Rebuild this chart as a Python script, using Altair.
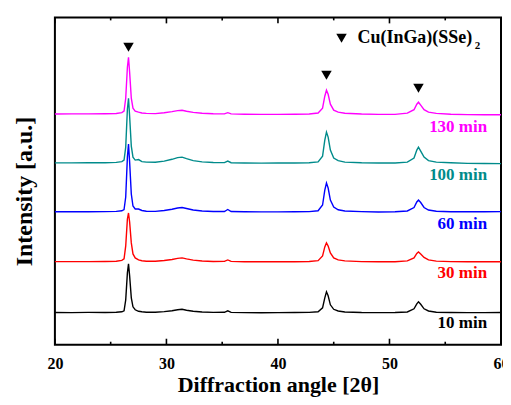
import altair as alt
import pandas as pd

# 2-theta grid (degrees)
two_theta = [20.0, 21.5, 23.0, 24.5, 25.5, 26.0, 26.2, 26.35, 26.5, 26.6, 26.7, 26.85, 27.0, 27.2, 27.5,
             27.8, 28.2, 29.0, 29.8, 30.5, 31.0, 31.4, 31.8, 32.4, 33.2, 34.2, 35.2, 35.5, 35.8, 37.0,
             38.5, 40.0, 41.5, 42.8, 43.6, 44.0, 44.2, 44.35, 44.5, 44.7, 45.0, 45.4, 46.0, 47.5, 49.0,
             50.5, 51.6, 52.2, 52.45, 52.6, 52.8, 53.1, 53.5, 54.2, 55.5, 57.0, 58.5, 60.0]

# intensities (a.u.), relative to each pattern's own baseline
i_10 = [0.3, 0.2, 0.4, 0.3, 0.5, 1.0, 2, 13, 40, 49, 37, 15, 6, 3, 1.5,
        1.0, 0.5, 0.5, 1.2, 2.0, 3.0, 3.5, 2.6, 1.6, 0.8, 0.4, 0.5, 2.0, 0.4, 0.2,
        0.1, 0.2, 0.3, 0.4, 1.0, 5, 15, 21, 17, 8, 3.5, 1.8, 0.8, 0.3, 0.2,
        0.3, 0.8, 4, 9, 11, 8.5, 4, 1.8, 0.6, 0.3, 0.2, 0.2, 0.3]
i_30 = [0.3, 0.3, 0.3, 0.4, 0.6, 1.5, 3, 16, 43, 49, 40, 19, 8, 4, 2,
        1.2, 0.7, 0.6, 1.4, 2.4, 3.5, 4.0, 3.0, 1.8, 0.9, 0.4, 0.5, 2.0, 0.5, 0.2,
        0.1, 0.1, 0.2, 0.4, 1.2, 6, 15, 19, 16, 9, 4, 2.0, 1.0, 0.3, 0.1,
        0.2, 1.0, 4, 8.5, 10, 8, 4.5, 2.0, 0.8, 0.3, 0.2, 0.1, 0.2]
i_60 = [0.2, 0.3, 0.2, 0.4, 0.6, 1.2, 2.5, 15, 55, 68, 50, 18, 6, 3, 3,
        1.5, 0.8, 0.6, 1.5, 2.8, 4.0, 4.5, 3.5, 2.0, 1.0, 0.5, 0.5, 2.5, 0.5, 0.2,
        0.1, 0.1, 0.2, 0.4, 1.2, 7, 22, 29, 24, 12, 5, 2.2, 1.0, 0.4, 0.0,
        0.2, 1.0, 4.5, 10, 12, 9.5, 4.5, 2.0, 0.8, 0.3, 0.2, 0.3, 0.4]
i_100 = [0.2, 0.2, 0.3, 0.4, 0.7, 1.5, 3, 16, 54, 65, 47, 17, 6, 3, 3.5,
         1.5, 1.0, 0.8, 2.0, 3.8, 5.5, 6.0, 4.5, 2.5, 1.2, 0.6, 0.5, 2.0, 0.4, 0.1,
         0.0, 0.1, 0.1, 0.3, 1.2, 7, 23, 31, 26, 13, 5, 2.5, 1.0, 0.3, 0.1,
         0.1, 1.0, 5, 13, 16, 12, 6, 2.5, 1.0, 0.3, -0.3, -0.4, -0.5]
i_130 = [0.2, 0.3, 0.3, 0.4, 0.7, 1.5, 3, 16, 47, 57, 42, 16, 6, 3, 2,
         1.2, 0.8, 0.6, 1.5, 2.6, 3.6, 4.0, 3.0, 1.8, 0.9, 0.4, 0.3, 1.5, 0.3, 0.0,
         -0.2, -0.2, -0.1, 0.2, 1.2, 6, 18, 24, 20, 10, 4, 2.0, 1.0, 0.2, -0.2,
         -0.2, 1.0, 4.5, 10, 12, 9, 4.5, 2.0, 0.8, 0.0, -0.4, -0.6, -0.6]

series_names = ["10 min", "30 min", "60 min", "100 min", "130 min"]
series_colors = ["#000000", "#ff0000", "#0000ff", "#008b8b", "#ff00ff"]
series_offsets = [32, 83, 133, 182, 231]
series_values = [i_10, i_30, i_60, i_100, i_130]

# label positions
label_x = [58.75, 58.75, 58.75, 58.75, 58.75]
label_y = [22, 72, 121, 170, 218]

# phase markers (peak positions) and their heights
marker_x = [26.6, 44.35, 52.6]
marker_y = [298, 270, 257]

legend_x = [45.7]
legend_y = [307]
legend_text = ["Cu(InGa)(SSe)"]
legend_sub = ["2"]
legend_sub_x = [57.65]
legend_sub_y = [299]

major_ticks = [20, 30, 40, 50, 60]
minor_ticks = [25, 35, 45, 55]

rows = []
for name, off, vals in zip(series_names, series_offsets, series_values):
    for t, v in zip(two_theta, vals):
        rows.append({"x": t, "y": v + off, "series": name})
df = pd.DataFrame(rows)

labels_df = pd.DataFrame({"x": label_x, "y": label_y, "text": series_names, "series": series_names})
markers_df = pd.DataFrame({"x": marker_x, "y": marker_y})
legend_df = pd.DataFrame({"x": legend_x, "y": legend_y, "text": legend_text})
legend_sub_df = pd.DataFrame({"x": legend_sub_x, "y": legend_sub_y, "text": legend_sub})
major_df = pd.DataFrame({"x": major_ticks})
minor_df = pd.DataFrame({"x": minor_ticks})

FONT = "Liberation Serif"
W, H = 447, 328

xscale = alt.Scale(domain=[20, 60], nice=False, zero=False)
yscale = alt.Scale(domain=[0, 328], nice=False, zero=False)
cscale = alt.Scale(domain=series_names, range=series_colors)

xaxis = alt.Axis(values=major_ticks, ticks=False, tickSize=0, grid=False, domain=False,
                 labelFlush=False, labelOverlap=False,
                 labelFont=FONT, labelFontWeight="bold", labelFontSize=16, labelColor="black",
                 labelPadding=11, title="Diffraction angle [2θ]", titleFont=FONT,
                 titleFontWeight="bold", titleFontSize=22, titleColor="black", titlePadding=3)
yaxis = alt.Axis(labels=False, ticks=False, tickSize=0, grid=False, domain=False,
                 title="Intensity [a.u.]", titleFont=FONT, titleFontWeight="bold",
                 titleFontSize=24, titleColor="black", titlePadding=18, titleY=174)

lines = alt.Chart(df).mark_line(strokeWidth=1.4).encode(
    x=alt.X("x:Q", scale=xscale, axis=xaxis),
    y=alt.Y("y:Q", scale=yscale, axis=yaxis),
    color=alt.Color("series:N", scale=cscale, legend=None),
    detail="series:N",
)

labels = alt.Chart(labels_df).mark_text(
    align="right", baseline="middle", font=FONT, fontWeight="bold", fontSize=17
).encode(
    x=alt.X("x:Q", scale=xscale),
    y=alt.Y("y:Q", scale=yscale),
    text="text:N",
    color=alt.Color("series:N", scale=cscale, legend=None),
)

markers = alt.Chart(markers_df).mark_point(
    shape="triangle-down", filled=True, color="black", opacity=1, size=110
).encode(x=alt.X("x:Q", scale=xscale), y=alt.Y("y:Q", scale=yscale))

legend_marker = alt.Chart(legend_df).mark_point(
    shape="triangle-down", filled=True, color="black", opacity=1, size=110
).encode(x=alt.X("x:Q", scale=xscale), y=alt.Y("y:Q", scale=yscale))

legend_label = alt.Chart(legend_df).mark_text(
    align="left", baseline="middle", dx=16, font=FONT, fontWeight="bold", fontSize=18, color="black"
).encode(x=alt.X("x:Q", scale=xscale), y=alt.Y("y:Q", scale=yscale), text="text:N")

legend_subscript = alt.Chart(legend_sub_df).mark_text(
    align="left", baseline="middle", font=FONT, fontWeight="bold", fontSize=11, color="black"
).encode(x=alt.X("x:Q", scale=xscale), y=alt.Y("y:Q", scale=yscale), text="text:N")

def ticks(df_, length, top):
    if top:
        enc = dict(y=alt.value(0), y2=alt.value(length))
    else:
        enc = dict(y=alt.value(H), y2=alt.value(H - length))
    return alt.Chart(df_).mark_rule(color="black", strokeWidth=1.6).encode(
        x=alt.X("x:Q", scale=xscale), **enc)

chart = alt.layer(
    lines, labels, markers, legend_marker, legend_label, legend_subscript,
    ticks(major_df, 6, False), ticks(minor_df, 3, False),
    ticks(major_df, 6, True), ticks(minor_df, 3, True),
).properties(
    width=W, height=H, autosize="none",
    padding={"left": 47, "top": 9, "right": 2, "bottom": 60},
).configure(background="white").configure_view(stroke="black", strokeWidth=2)

chart.save("out.html", embed_options={"renderer": "svg", "actions": False})
